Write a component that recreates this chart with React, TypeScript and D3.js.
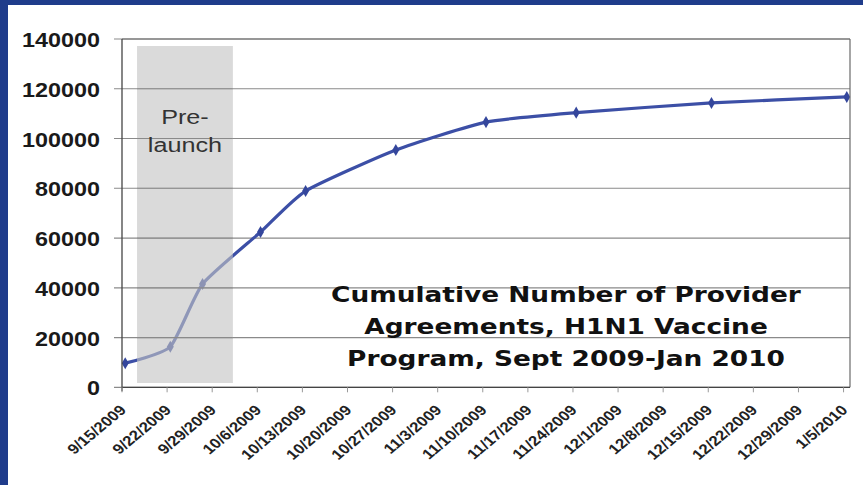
import React from "react";
import * as d3 from "d3";

// Cumulative provider agreements, H1N1 vaccine program
const pointDates: Date[] = [
  new Date(2009, 8, 15, 12),
  new Date(2009, 8, 22, 12),
  new Date(2009, 8, 27, 12),
  new Date(2009, 9, 6, 12),
  new Date(2009, 9, 13, 12),
  new Date(2009, 9, 27, 12),
  new Date(2009, 10, 10, 12),
  new Date(2009, 10, 24, 12),
  new Date(2009, 11, 15, 12),
  new Date(2010, 0, 5, 12),
];
const agreements: number[] = [9700, 16300, 41500, 62400, 78900, 95400, 106600, 110400, 114300, 116700];

// Weekly axis labels
const tickDates: Date[] = d3.timeDay.range(new Date(2009, 8, 15), new Date(2010, 0, 6), 7);
const yTicks: number[] = [0, 20000, 40000, 60000, 80000, 100000, 120000, 140000];

// Shaded pre-launch period
const prelaunch: [Date, Date] = [new Date(2009, 8, 17, 8), new Date(2009, 9, 2, 5)];
const prelaunchLabel: string[] = ["Pre-", "launch"];

const titleLines: string[] = [
  "Cumulative Number of Provider",
  "Agreements, H1N1 Vaccine",
  "Program, Sept 2009-Jan 2010",
];

const W = 863;
const H = 485;
const SX = 1.2; // horizontal text stretch

const plot = { left: 122, right: 850, top: 39, bottom: 387.3 };

export default function App() {
  const x = d3
    .scaleTime()
    .domain([new Date(2009, 8, 15), new Date(2010, 0, 6)])
    .range([plot.left, plot.right]);
  const y = d3.scaleLinear().domain([0, 140000]).range([plot.bottom, plot.top]);

  const series = pointDates.map((d, i) => ({ d, v: agreements[i] }));
  const line = d3
    .line<{ d: Date; v: number }>()
    .x((p) => x(p.d))
    .y((p) => y(p.v))
    .curve(d3.curveCardinal.tension(0.45));

  const diamond = d3.symbol().type(d3.symbolDiamond).size(42)() as string;
  const fmt = d3.timeFormat("%-m/%-d/%Y");

  const bx0 = x(prelaunch[0]);
  const bx1 = x(prelaunch[1]);
  const by0 = 46;
  const by1 = 383;
  const bcx = (bx0 + bx1) / 2;

  return (
    <svg
      width={W}
      height={H}
      style={{ position: "absolute", left: 0, top: 0, background: "#ffffff" }}
    >
      {/* frame */}
      <rect x={0} y={0} width={W} height={5} fill="#1f3c8b" />
      <rect x={0} y={0} width={8} height={H} fill="#1f3c8b" />

      {/* gridlines */}
      {yTicks.map((t) => (
        <line
          key={"g" + t}
          x1={plot.left - 8}
          x2={plot.right}
          y1={y(t)}
          y2={y(t)}
          stroke="#8a8a8a"
          strokeWidth={1.2}
        />
      ))}

      {/* series */}
      <path d={line(series) ?? ""} fill="none" stroke="#3c4fa6" strokeWidth={3.2} />
      {series.map((p, i) => (
        <path
          key={"m" + i}
          d={diamond}
          transform={`translate(${x(p.d)},${y(p.v)})`}
          fill="#34469c"
        />
      ))}

      {/* pre-launch shading */}
      <rect x={bx0} y={by0} width={bx1 - bx0} height={by1 - by0} fill="#c3c3c3" opacity={0.62} />
      {yTicks
        .filter((t) => y(t) > by0 && y(t) < by1)
        .map((t) => (
          <line
            key={"gb" + t}
            x1={bx0}
            x2={bx1}
            y1={y(t)}
            y2={y(t)}
            stroke="#8a8a8a"
            strokeWidth={1.2}
          />
        ))}
      {prelaunchLabel.map((s, i) => (
        <text
          key={"p" + i}
          transform={`translate(${bcx},${124 + i * 28}) scale(${SX},1)`}
          textAnchor="middle"
          fontFamily="Liberation Sans, Arial, sans-serif"
          fontSize={21}
          fill="#333"
        >
          {s}
        </text>
      ))}

      {/* plot frame and axes */}
      <line x1={plot.left} x2={plot.right} y1={plot.top} y2={plot.top} stroke="#6a6a6a" strokeWidth={1.2} />
      <line x1={plot.right} x2={plot.right} y1={plot.top} y2={plot.bottom} stroke="#6a6a6a" strokeWidth={1.2} />
      <line x1={plot.left} x2={plot.left} y1={plot.top} y2={plot.bottom + 4} stroke="#444" strokeWidth={1.3} />
      <line x1={plot.left} x2={plot.right} y1={plot.bottom} y2={plot.bottom} stroke="#444" strokeWidth={1.3} />

      {/* y labels */}
      {yTicks.map((t) => (
        <text
          key={"y" + t}
          transform={`translate(100,${y(t) + 8}) scale(${SX},1)`}
          textAnchor="end"
          fontFamily="Liberation Sans, Arial, sans-serif"
          fontWeight="bold"
          fontSize={19.5}
          fill="#1a1a1a"
        >
          {t}
        </text>
      ))}

      {/* x ticks and labels */}
      {tickDates.map((d, i) => (
        <g key={"x" + i}>
          <line x1={x(d)} x2={x(d)} y1={plot.bottom} y2={plot.bottom + 5} stroke="#999" strokeWidth={1} />
          <text
            transform={`translate(${x(d) + 5},411) scale(${SX},1) rotate(-45)`}
            textAnchor="end"
            fontFamily="Liberation Sans, Arial, sans-serif"
            fontWeight="bold"
            fontSize={14}
            fill="#222"
          >
            {fmt(d)}
          </text>
        </g>
      ))}

      {/* title */}
      {titleLines.map((s, i) => (
        <text
          key={"t" + i}
          transform={`translate(566,${302 + i * 32}) scale(${SX},1)`}
          textAnchor="middle"
          fontFamily="DejaVu Sans, Verdana, sans-serif"
          fontWeight="bold"
          fontSize={22}
          fill="#111"
        >
          {s}
        </text>
      ))}
    </svg>
  );
}
